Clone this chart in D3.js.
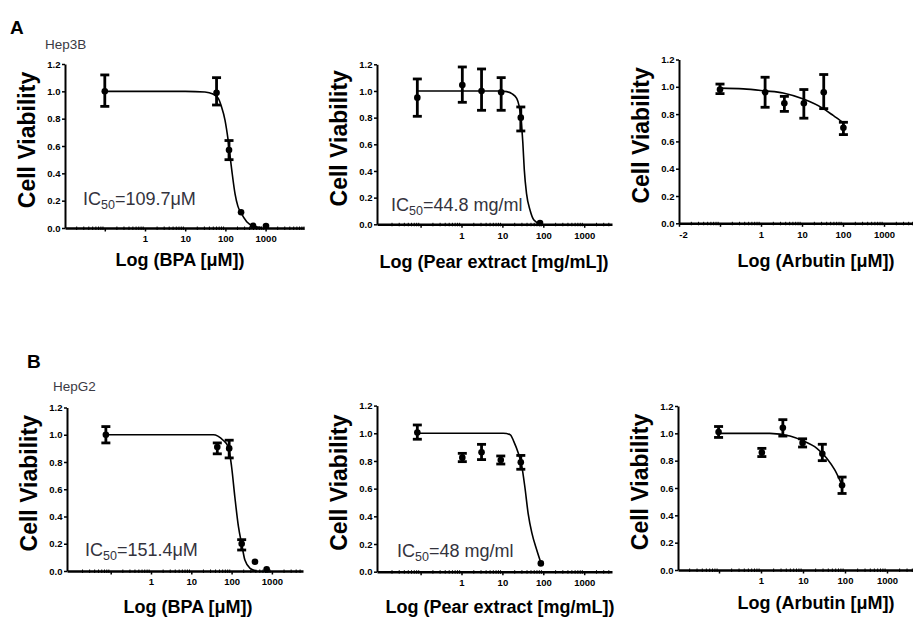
<!DOCTYPE html>
<html><head><meta charset="utf-8">
<script src="https://cdn.jsdelivr.net/npm/d3@7"></script>
<style>
body{margin:0;background:#fff}
svg{display:block}
text{font-family:"Liberation Sans",Arial,Helvetica,sans-serif}
</style>
</head><body>
<svg id="c" width="913" height="619"></svg>
<script>
// ---------------- DATA ----------------
const rowLetters = ["A", "B"];
const cellLines = ["Hep3B", "HepG2"];
const yTitle = "Cell Viability";
const xTitles = ["Log (BPA [μM])", "Log (Pear extract [mg/mL])", "Log (Arbutin [μM])"];
const yTickValues = [0, 0.2, 0.4, 0.6, 0.8, 1.0, 1.2];
const xTickValues = [0, 1, 2, 3];
const xTickLabels = ["1", "10", "100", "1000"];
const a3ExtraTickValue = -2;
const a3ExtraTickLabel = "-2";
const ic50Texts = ["=109.7μM", "=44.8 mg/ml", null, "=151.4μM", "=48 mg/ml", null];

// log10 dose, mean viability, error low, error high
const a1LogDose = [-1.0, 1.78, 2.09, 2.39, 2.69, 3.01];
const a1Mean    = [1.0, 0.99, 0.57, 0.115, 0.017, 0.015];
const a1Low     = [0.89, 0.90, 0.50, null, null, null];
const a1High    = [1.12, 1.10, 0.64, null, null, null];
const a1FitLog  = [-1.0, 1.0, 1.49, 1.69, 1.82, 1.90, 1.99, 2.07, 2.16, 2.24, 2.31, 2.39, 2.53, 2.71, 2.91];
const a1FitVal  = [1.0, 1.0, 0.995, 0.98, 0.95, 0.89, 0.79, 0.64, 0.42, 0.25, 0.16, 0.11, 0.046, 0.012, 0.003];

const a2LogDose = [-1.08, 0.02, 0.49, 0.97, 1.45, 1.92];
const a2Mean    = [0.95, 1.045, 1.0, 0.99, 0.80, 0.01];
const a2Low     = [0.81, 0.915, 0.855, 0.855, 0.70, null];
const a2High    = [1.09, 1.18, 1.165, 1.10, 0.88, null];
const a2FitLog  = [-1.08, 0.94, 1.105, 1.23, 1.35, 1.45, 1.50, 1.535, 1.59, 1.675, 1.77, 1.92];
const a2FitVal  = [1.0, 1.0, 0.995, 0.98, 0.945, 0.80, 0.61, 0.41, 0.23, 0.107, 0.032, 0.003];

const a3LogDose = [-1.0, 0.10, 0.57, 1.045, 1.53, 2.01];
const a3Mean    = [0.98, 0.96, 0.88, 0.88, 0.96, 0.70];
const a3Low     = [0.95, 0.85, 0.82, 0.77, 0.84, 0.65];
const a3High    = [1.02, 1.07, 0.93, 0.98, 1.09, 0.74];
const a3FitLog  = [-1.0, -0.43, 0.10, 0.54, 1.035, 1.52, 1.76, 2.01];
const a3FitVal  = [0.99, 0.985, 0.97, 0.955, 0.91, 0.84, 0.79, 0.735];

const b1LogDose = [-1.12, 1.645, 1.94, 2.25, 2.58, 2.87];
const b1Mean    = [1.0, 0.91, 0.90, 0.20, 0.068, 0.012];
const b1Low     = [0.94, 0.86, 0.83, 0.154, null, null];
const b1High    = [1.06, 0.94, 0.96, 0.23, null, null];
const b1FitLog  = [-1.12, 1.55, 1.66, 1.79, 1.92, 2.0, 2.08, 2.17, 2.25, 2.33, 2.46, 2.62];
const b1FitVal  = [1.0, 1.0, 0.99, 0.96, 0.91, 0.765, 0.545, 0.325, 0.198, 0.08, 0.02, 0.0];

const b2LogDose = [-1.08, 0.02, 0.49, 0.96, 1.45, 1.94];
const b2Mean    = [1.005, 0.824, 0.863, 0.807, 0.79, 0.06];
const b2Low     = [0.957, 0.795, 0.81, 0.778, 0.74, null];
const b2High    = [1.06, 0.855, 0.92, 0.836, 0.84, null];
const b2FitLog  = [-1.08, 1.02, 1.19, 1.28, 1.39, 1.47, 1.55, 1.63, 1.72, 1.84, 1.94];
const b2FitVal  = [1.0, 1.0, 0.99, 0.94, 0.855, 0.77, 0.61, 0.42, 0.28, 0.157, 0.065];

const b3LogDose = [-1.01, 0.02, 0.52, 0.99, 1.46, 1.93];
const b3Mean    = [1.01, 0.86, 1.04, 0.93, 0.85, 0.62];
const b3Low     = [0.97, 0.83, 0.98, 0.90, 0.80, 0.56];
const b3High    = [1.05, 0.89, 1.10, 0.96, 0.92, 0.68];
const b3FitLog  = [-1.01, 0.21, 0.69, 1.0, 1.33, 1.56, 1.76, 1.93];
const b3FitVal  = [1.0, 1.0, 0.98, 0.945, 0.89, 0.82, 0.73, 0.62];

// ---------------- LAYOUT ----------------
const layout = [
  {left: 65,  right: 304, yBottom: 228,   yTop: 64,    x0: 145,   dec: 40.2, titleX: 180, titleY: 266, icX: 83,  icY: 205},
  {left: 377, right: 612, yBottom: 224.3, yTop: 64.3,  x0: 461.5, dec: 40.9, titleX: 494, titleY: 268, icX: 391, icY: 211},
  {left: 679, right: 930, yBottom: 223.3, yTop: 59.5,  x0: 761,   dec: 41,   titleX: 816, titleY: 267},
  {left: 67,  right: 303, yBottom: 571,   yTop: 407.5, x0: 151,   dec: 40.3, titleX: 188, titleY: 613, icX: 85,  icY: 556},
  {left: 377, right: 612, yBottom: 571.7, yTop: 405.6, x0: 461.5, dec: 40.9, titleX: 500, titleY: 613, icX: 397, icY: 557},
  {left: 678, right: 930, yBottom: 570,   yTop: 406,   x0: 761,   dec: 42,   titleX: 816, titleY: 609}
];

const panelData = [
  [a1LogDose, a1Mean, a1Low, a1High, a1FitLog, a1FitVal],
  [a2LogDose, a2Mean, a2Low, a2High, a2FitLog, a2FitVal],
  [a3LogDose, a3Mean, a3Low, a3High, a3FitLog, a3FitVal],
  [b1LogDose, b1Mean, b1Low, b1High, b1FitLog, b1FitVal],
  [b2LogDose, b2Mean, b2Low, b2High, b2FitLog, b2FitVal],
  [b3LogDose, b3Mean, b3Low, b3High, b3FitLog, b3FitVal]
];

const svg = d3.select("#c");
const FONT = '"Liberation Sans",Arial,Helvetica,sans-serif';

// Row letters & cell line names
const letterPos = [{x: 10, y: 34, cx: 45, cy: 49}, {x: 27, y: 368, cx: 53, cy: 391}];
rowLetters.forEach((L, i) => {
  svg.append("text").attr("x", letterPos[i].x).attr("y", letterPos[i].y)
    .attr("font-size", 19).attr("font-weight", "bold").attr("fill", "#000").text(L);
  svg.append("text").attr("x", letterPos[i].cx).attr("y", letterPos[i].cy)
    .attr("font-size", 13.5).attr("fill", "#3a3a44").text(cellLines[i]);
});

layout.forEach((p, i) => {
  const [lx, mean, lo, hi, fx, fy] = panelData[i];
  const x = d3.scaleLinear()
    .domain([(p.left - p.x0) / p.dec, (p.right - p.x0) / p.dec])
    .range([p.left, p.right]);
  const y = d3.scaleLinear().domain([0, 1.2]).range([p.yBottom, p.yTop]);
  const g = svg.append("g");

  // minor x ticks
  const minor = [];
  for (let k = -2; k <= 3; k++) for (let m = 2; m <= 9; m++) {
    const v = k + Math.log10(m);
    if (v >= x.domain()[0] && v <= x.domain()[1]) minor.push(v);
  }
  g.append("g").selectAll("line").data(minor).join("line")
    .attr("x1", d => x(d)).attr("x2", d => x(d))
    .attr("y1", p.yBottom - 1.5).attr("y2", p.yBottom + 2)
    .attr("stroke", "#000").attr("stroke-width", 1);

  // x axis
  const majors = [-1].concat(xTickValues);
  if (i === 2) majors.unshift(a3ExtraTickValue);
  const xa = d3.axisBottom(x).tickValues(majors.filter(v => v >= x.domain()[0] - 0.01))
    .tickSizeInner(3.5).tickSizeOuter(0).tickPadding(4)
    .tickFormat(v => {
      const k = xTickValues.indexOf(v);
      if (k >= 0) return xTickLabels[k];
      if (i === 2 && v === a3ExtraTickValue) return a3ExtraTickLabel;
      return "";
    });
  const gx = g.append("g").attr("transform", `translate(0,${p.yBottom})`).call(xa);
  gx.select(".domain").attr("stroke-width", 2.5).attr("stroke", "#000");
  gx.selectAll(".tick line").attr("stroke-width", 1.5).attr("stroke", "#000");
  gx.selectAll(".tick text").attr("font-family", FONT).attr("font-size", 9.5)
    .attr("font-weight", "bold").attr("fill", "#000");
  if (i === 2) gx.selectAll(".tick text").filter(v => v === a3ExtraTickValue).attr("dx", 4);

  // y axis
  const ya = d3.axisLeft(y).tickValues(yTickValues).tickFormat(d3.format(".1f"))
    .tickSizeInner(3).tickSizeOuter(0).tickPadding(1.5);
  const gy = g.append("g").attr("transform", `translate(${p.left},0)`).call(ya);
  gy.select(".domain").attr("stroke-width", 2).attr("stroke", "#000");
  gy.selectAll(".tick line").attr("stroke-width", 1.5).attr("stroke", "#000");
  gy.selectAll(".tick text").attr("font-family", FONT).attr("font-size", 9.5)
    .attr("font-weight", "bold").attr("fill", "#000");

  // y title
  g.append("text")
    .attr("transform", `translate(${p.left - 30},${(p.yBottom + p.yTop) / 2 - 6}) rotate(-90)`)
    .attr("text-anchor", "middle").attr("font-size", 23).attr("font-weight", "bold")
    .attr("fill", "#000").text(yTitle);

  // x title
  g.append("text").attr("x", p.titleX).attr("y", p.titleY).attr("text-anchor", "middle")
    .attr("font-size", 18).attr("font-weight", "bold").attr("fill", "#000")
    .text(xTitles[i % 3]);

  // IC50 label
  if (ic50Texts[i]) {
    const t = g.append("text").attr("x", p.icX).attr("y", p.icY)
      .attr("font-size", 18).attr("fill", "#33333d");
    t.append("tspan").text("IC");
    t.append("tspan").attr("font-size", 12.5).attr("dy", 4).text("50");
    t.append("tspan").attr("dy", -4).text(ic50Texts[i]);
  }

  // fitted curve
  const fit = fx.map((v, k) => [v, fy[k]]);
  g.append("path").datum(fit)
    .attr("d", d3.line().x(d => x(d[0])).y(d => y(d[1])).curve(d3.curveMonotoneX))
    .attr("fill", "none").attr("stroke", "#000").attr("stroke-width", 1.6);

  // error bars
  const pts = lx.map((v, k) => ({x: v, m: mean[k], lo: lo[k], hi: hi[k]}));
  const eb = pts.filter(d => d.lo !== null);
  g.append("g").selectAll("line").data(eb).join("line")
    .attr("x1", d => x(d.x)).attr("x2", d => x(d.x))
    .attr("y1", d => y(d.lo)).attr("y2", d => y(d.hi))
    .attr("stroke", "#000").attr("stroke-width", 2.8);
  ["lo", "hi"].forEach(key => {
    g.append("g").selectAll("line").data(eb).join("line")
      .attr("x1", d => x(d.x) - 4.5).attr("x2", d => x(d.x) + 4.5)
      .attr("y1", d => y(d[key])).attr("y2", d => y(d[key]))
      .attr("stroke", "#000").attr("stroke-width", 2.8);
  });

  // points
  g.append("g").selectAll("circle").data(pts).join("circle")
    .attr("cx", d => x(d.x)).attr("cy", d => y(d.m)).attr("r", 3.3).attr("fill", "#000");
});
</script>
</body></html>
